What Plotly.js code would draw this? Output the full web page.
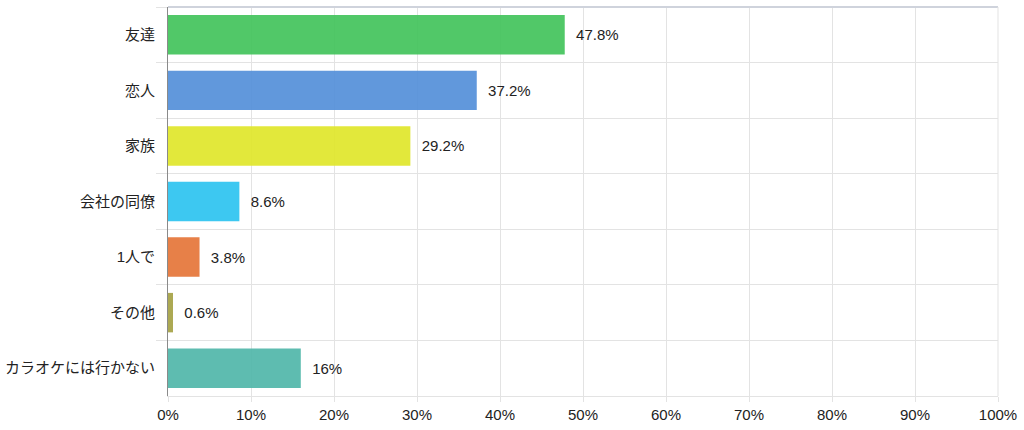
<!DOCTYPE html>
<html>
<head>
<meta charset="utf-8">
<script src="https://cdn.plot.ly/plotly-3.0.1.min.js"></script>
<style>html,body{margin:0;padding:0;background:#fff;}#chart{width:1024px;height:430px;}</style>
</head>
<body>
<div id="chart"></div>
<script>
const categories = ["友達", "恋人", "家族", "会社の同僚", "1人で", "その他", "カラオケには行かない"];
const values = [47.8, 37.2, 29.2, 8.6, 3.8, 0.6, 16];
const colors = ["#44c45c", "#5590d9", "#e0e62c", "#2ec4f0", "#e5763a", "#a6a346", "#52b7aa"];
const tickVals = [0, 10, 20, 30, 40, 50, 60, 70, 80, 90, 100];
const tickText = tickVals.map(v => v + "%");

const trace = {
  type: "bar",
  orientation: "h",
  y: categories,
  x: values,
  marker: {color: colors, opacity: 0.93},
  width: 0.71,
  text: values.map(v => "  " + v + "%"),
  textposition: "outside",
  cliponaxis: false,
  textfont: {size: 15, color: "#222"},
  hoverinfo: "none"
};

const layout = {
  width: 1024, height: 430,
  margin: {l: 168, r: 26, t: 7, b: 34},
  paper_bgcolor: "#fff", plot_bgcolor: "#fff",
  font: {family: "Liberation Sans, Arial, Noto Sans CJK JP, sans-serif", size: 15, color: "#222"},
  showlegend: false,
  bargap: 0.29,
  xaxis: {
    range: [0, 100],
    tickvals: tickVals, ticktext: tickText,
    showgrid: true, gridcolor: "#e3e3e3", gridwidth: 1,
    zeroline: false,
    ticks: "outside", ticklen: 5, tickcolor: "#e3e3e3",
    showline: true, linecolor: "#e3e3e3",
    mirror: false,
    tickfont: {size: 15, color: "#222"},
    fixedrange: true
  },
  yaxis: {
    type: "category",
    categoryorder: "array", categoryarray: categories,
    autorange: "reversed",
    tickson: "boundaries",
    ticks: "outside", ticklen: 11, tickcolor: "#e3e3e3",
    showgrid: true, gridcolor: "#e3e3e3",
    showline: true, linecolor: "#8a8a8a", linewidth: 1,
    ticklabelstandoff: 9,
    tickfont: {size: 15, color: "#222"},
    fixedrange: true
  },
  shapes: [
    {type: "line", xref: "paper", yref: "paper", x0: 0, x1: 1, y0: 1, y1: 1, line: {color: "#cfd3dc", width: 2}},
    {type: "line", xref: "paper", yref: "paper", x0: 1, x1: 1, y0: 0, y1: 1, line: {color: "#e3e3e3", width: 1}}
  ]
};

Plotly.newPlot("chart", [trace], layout, {displayModeBar: false, staticPlot: true});
</script>
</body>
</html>
